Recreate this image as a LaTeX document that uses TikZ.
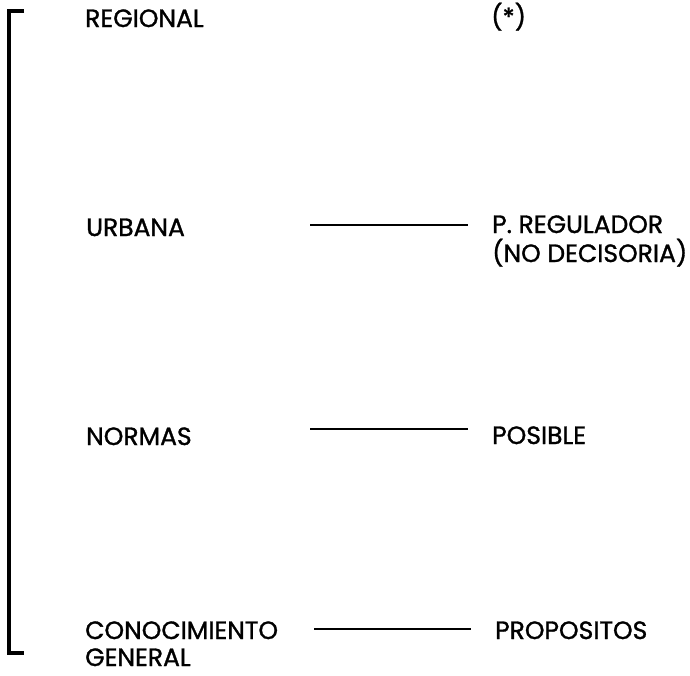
\documentclass[tikz,border=0pt]{standalone}
\usepackage{fontspec}
\setmainfont{Poppins}[FakeBold=1.2]
\begin{document}
\begin{tikzpicture}[x=1pt,y=-1pt,
  lbl/.style={anchor=base west,inner sep=0pt,font=\fontsize{25}{29}\selectfont},
  link/.style={line width=2.8pt},
  brk/.style={line width=3.5pt,line join=miter}]
\useasboundingbox (0,0) rectangle (690,675);
% bracket
\coordinate (bt) at (24,11);
\coordinate (btc) at (9,11);
\coordinate (bbc) at (9,653);
\coordinate (bb) at (24,653);
\draw[brk] (bt) -- (btc) -- (bbc) -- (bb);
% left column
\node[lbl] (regional) at (85,27) {REGIONAL};
\node[lbl] (urbana) at (86,236) {URBANA};
\node[lbl] (normas) at (86,445) {NORMAS};
\node[lbl] (conoc) at (85,639) {CONOCIMIENTO};
\node[lbl] (general) at (85,666) {GENERAL};
% right column
\node[lbl] (ast) at (491,26) {(*)};
\node[lbl] (preg) at (492,233) {P. REGULADOR};
\node[lbl] (nodec) at (492,262) {(NO DECISORIA)};
\node[lbl] (posible) at (492,444) {POSIBLE};
\node[lbl] (propos) at (495,639) {PROPOSITOS};
% connectors
\coordinate (u1) at (310,225); \coordinate (u2) at (468,225);
\coordinate (n1) at (310,429); \coordinate (n2) at (468,429);
\coordinate (c1) at (314,629); \coordinate (c2) at (471,629);
\draw[link] (u1) -- (u2);
\draw[link] (n1) -- (n2);
\draw[link] (c1) -- (c2);
\end{tikzpicture}
\end{document}
